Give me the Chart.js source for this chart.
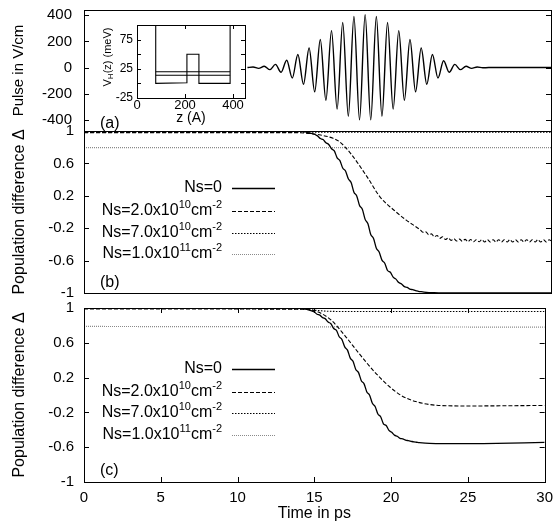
<!DOCTYPE html>
<html>
<head>
<meta charset="utf-8">
<script src="https://cdn.jsdelivr.net/npm/chart.js@4.4.0/dist/chart.umd.min.js"></script>
<style>
html, body { margin: 0; padding: 0; background: #fff; overflow: hidden; }
#wrap { position: relative; width: 560px; height: 531px; overflow: hidden; }
#wrap canvas { position: absolute; left: 0; top: 0; }
#wrap #chartA { top: -20px; }
</style>
</head>
<body>
<div id="wrap">
  <canvas id="chartA" width="560" height="551"></canvas>
  <canvas id="chartB" width="560" height="531"></canvas>
  <canvas id="chartC" width="560" height="531"></canvas>
  <canvas id="chartInset" width="560" height="531"></canvas>
</div>
<script>
var F = '"Liberation Sans", Arial, Helvetica, sans-serif';

// ticks
var timeTicks = [0, 5, 10, 15, 20, 25, 30];
var pulseTicks = [400, 200, 0, -200, -400];
var popTicks = [1, 0.6, 0.2, -0.2, -0.6, -1];
var insetZTicks = [0, 200, 400];
var insetVTicks = [-25, 0, 25, 50, 75];
var insetVLabels = [75, 25, -25];

// legend names, odd parts are superscripts
var seriesNames = [
  ["Ns=0"],
  ["Ns=2.0x10", "10", "cm", "-2"],
  ["Ns=7.0x10", "10", "cm", "-2"],
  ["Ns=1.0x10", "11", "cm", "-2"]
];

// (a) pulse, V/cm
var pulseTime = [10.5, 10.86, 11.22, 11.58, 11.94, 12.30, 12.66, 13.02, 13.38, 13.74, 14.10, 14.46, 14.82, 15.18, 15.54,
  15.90, 16.26, 16.62, 16.98, 17.34, 17.70, 18.06, 18.42, 18.78, 19.14, 19.50, 19.86, 20.22, 20.58, 20.94, 21.30,
  21.66, 22.02, 22.38, 22.74, 23.10, 23.46, 23.82, 24.18, 24.54, 24.90, 25.26, 25.62, 26.0, 30];
var pulseField = [0, 4, -6, 10, -16, 24, -36, 56, -80, 100, -128, 150, -185, 215, -250,
  282, -318, 344, -372, 390, -400, 405, -400, 390, -372, 344, -318, 282, -250, 215, -185,
  150, -128, 100, -80, 52, -36, 24, -16, 10, -6, 4, -2, 0, 0];

// (b) population difference
var bTime0 = [0, 13, 14, 14.5,
  15.00, 15.18, 15.36, 15.54, 15.72, 15.90, 16.08, 16.26, 16.44, 16.62, 16.80, 16.98, 17.16, 17.34, 17.52, 17.70,
  17.88, 18.06, 18.24, 18.42, 18.60, 18.78, 18.96, 19.14, 19.32, 19.50, 19.68, 19.86, 20.04, 20.22, 20.40, 20.58,
  20.76, 20.94, 21.12, 21.30, 21.48, 21.66, 21.84, 22.5, 23, 30];
var bNs0 = [1, 1, 0.995, 0.975,
  0.940, 0.907, 0.894, 0.855, 0.834, 0.781, 0.755, 0.669, 0.634, 0.543, 0.506, 0.411, 0.364, 0.245, 0.199, 0.080,
  0.034, -0.091, -0.145, -0.278, -0.327, -0.447, -0.495, -0.594, -0.632, -0.722, -0.744, -0.805, -0.829, -0.871, -0.889, -0.921,
  -0.930, -0.953, -0.959, -0.972, -0.979, -0.984, -0.988, -0.997, -1, -1];
var bTime2 = [0, 13.5, 14.5, 15.2, 16.0, 16.4, 17.1, 18.2, 19.0, 19.9, 20.7, 21.6,
  21.78, 21.96, 22.14, 22.32, 22.50, 22.68, 22.86, 23.04, 23.22, 23.40, 23.58, 23.76, 23.94, 24.12, 24.30, 24.48,
  24.66, 24.84, 25.02, 25.20, 25.38, 25.56, 25.74, 25.92, 26.10, 26.28, 26.46, 26.64, 26.82, 27.00, 27.18, 27.36,
  27.54, 27.72, 27.90, 28.08, 28.26, 28.44, 28.62, 28.80, 28.98, 29.16, 29.34, 29.52, 29.70, 29.88, 30.00];
var bNs2 = [0.98, 0.98, 0.97, 0.95, 0.91, 0.87, 0.73, 0.43, 0.19, 0.025, -0.10, -0.22,
  -0.25, -0.245, -0.28, -0.27, -0.305, -0.29, -0.325, -0.305, -0.34, -0.32, -0.35, -0.33, -0.358, -0.335, -0.362, -0.338,
  -0.365, -0.34, -0.368, -0.342, -0.368, -0.342, -0.37, -0.342, -0.37, -0.342, -0.37, -0.342, -0.37, -0.342, -0.37, -0.342,
  -0.37, -0.342, -0.37, -0.342, -0.37, -0.342, -0.37, -0.342, -0.37, -0.342, -0.37, -0.342, -0.37, -0.342, -0.355];
var bTime7 = [0, 30];
var bNs7 = [0.985, 0.985];
var bTime11 = [0, 30];
var bNs11 = [0.794, 0.794];

// (c) population difference
var cTime0 = [0, 13.5, 14.5,
  15.00, 15.18, 15.36, 15.54, 15.72, 15.90, 16.08, 16.26, 16.44, 16.62, 16.80, 16.98, 17.16, 17.34, 17.52, 17.70,
  17.88, 18.06, 18.24, 18.42, 18.60, 18.78, 18.96, 19.14, 19.32, 19.50, 19.68, 19.86, 20.04, 20.22, 20.40, 20.58,
  20.76, 20.94, 21.12, 21.30, 21.48, 21.66, 21.84, 22.5, 23.5, 26, 30];
var cNs0 = [1, 1, 0.985,
  0.954, 0.928, 0.918, 0.889, 0.875, 0.838, 0.819, 0.764, 0.743, 0.670, 0.637, 0.553, 0.516, 0.424, 0.387, 0.294,
  0.257, 0.164, 0.128, 0.035, -0.002, -0.095, -0.132, -0.218, -0.250, -0.331, -0.351, -0.407, -0.429, -0.461, -0.474, -0.498,
  -0.504, -0.518, -0.525, -0.532, -0.539, -0.543, -0.547, -0.557, -0.56, -0.558, -0.545];
var cTime2 = [0, 14.5, 15.3, 16.1, 17.0, 17.9, 18.9, 19.9, 20.7, 21.6, 23.1, 25, 30];
var cNs2 = [0.99, 0.985, 0.95, 0.86, 0.68, 0.48, 0.27, 0.095, -0.01, -0.075, -0.12, -0.126, -0.12];
var cTime7 = [0, 14, 15, 16, 17, 30];
var cNs7 = [0.995, 0.99, 0.975, 0.962, 0.96, 0.96];
var cTime11 = [0, 30];
var cNs11 = [0.788, 0.78];

// inset: potential profile V_H(z), meV
var insetZ = [78, 78, 208, 208, 258, 258, 388, 388];
var insetV = [100, 0, 1, 50, 50, 0, 0, 100];
var levelZ = [78, 388];
var level1 = [20, 20];
var level2 = [14, 14];

function pts(xs, ys) {
  return xs.map(function (x, i) { return { x: x, y: ys[i] }; });
}

var styles = [
  { borderColor: '#000', borderWidth: 1.3, borderDash: [] },
  { borderColor: '#000', borderWidth: 1.1, borderDash: [4, 2] },
  { borderColor: '#000', borderWidth: 1.1, borderDash: [1.5, 1.5] },
  { borderColor: '#8a8a8a', borderWidth: 1.2, borderDash: [1, 1] }
];

function line(data, st) {
  return {
    data: data, borderColor: st.borderColor, borderWidth: st.borderWidth, borderDash: st.borderDash,
    pointRadius: 0, fill: false, cubicInterpolationMode: 'monotone'
  };
}

var framePlugin = {
  id: 'frame',
  afterDraw: function (chart, args, o) {
    var ctx = chart.ctx, a = chart.chartArea;
    ctx.save();
    ctx.strokeStyle = '#000';
    ctx.lineWidth = 1;
    ctx.setLineDash([]);
    ctx.beginPath();
    var ys = chart.scales.y;
    ys.ticks.forEach(function (t) {
      var py = Math.round(ys.getPixelForValue(t.value)) + 0.5;
      ctx.moveTo(a.left, py); ctx.lineTo(a.left + o.tick, py);
      ctx.moveTo(a.right, py); ctx.lineTo(a.right - o.tick, py);
    });
    if (o.xTicks) {
      var xs = chart.scales.x;
      xs.ticks.forEach(function (t) {
        var px = Math.round(xs.getPixelForValue(t.value)) + 0.5;
        ctx.moveTo(px, a.bottom); ctx.lineTo(px, a.bottom - o.tick);
        ctx.moveTo(px, a.top); ctx.lineTo(px, a.top + o.tick);
      });
    }
    ctx.stroke();
    ctx.strokeRect(Math.round(a.left) + 0.5, Math.round(a.top) + 0.5, Math.round(a.right - a.left), Math.round(a.bottom - a.top));

    ctx.fillStyle = '#000';
    if (o.label) {
      ctx.font = '16px ' + F;
      ctx.textAlign = 'left';
      ctx.textBaseline = 'middle';
      ctx.fillText(o.label, o.labelX, o.labelY);
    }
    if (o.legendRows) {
      o.legendRows.forEach(function (y, i) {
        var parts = seriesNames[i], w = 0;
        parts.forEach(function (p, k) {
          ctx.font = (k % 2 ? '11px ' : '16px ') + F;
          w += ctx.measureText(p).width;
        });
        var x = o.legendRight - w;
        ctx.textAlign = 'left';
        ctx.textBaseline = 'middle';
        parts.forEach(function (p, k) {
          ctx.font = (k % 2 ? '11px ' : '16px ') + F;
          ctx.fillText(p, x, k % 2 ? y - 6 : y);
          x += ctx.measureText(p).width;
        });
        var ds = chart.data.datasets[i];
        ctx.beginPath();
        ctx.strokeStyle = ds.borderColor;
        ctx.lineWidth = ds.borderWidth;
        ctx.setLineDash(ds.borderDash);
        ctx.moveTo(o.sampleX[0], y + 0.5);
        ctx.lineTo(o.sampleX[1], y + 0.5);
        ctx.stroke();
      });
    }
    if (o.yTitle) {
      ctx.translate(o.yTitle.x, o.yTitle.y);
      ctx.rotate(-Math.PI / 2);
      ctx.setLineDash([]);
      ctx.fillStyle = '#000';
      ctx.textBaseline = 'middle';
      ctx.textAlign = 'left';
      var tw = 0;
      o.yTitle.parts.forEach(function (p, k) {
        ctx.font = (k % 2 ? '8px ' : '11px ') + F;
        tw += ctx.measureText(p).width;
      });
      var tx = -tw / 2;
      o.yTitle.parts.forEach(function (p, k) {
        ctx.font = (k % 2 ? '8px ' : '11px ') + F;
        ctx.fillText(p, tx, k % 2 ? 3 : 0);
        tx += ctx.measureText(p).width;
      });
    }
    ctx.restore();
  },
  beforeDatasetsDraw: function (chart, args, o) {
    if (!o.white) return;
    var a = chart.chartArea;
    chart.ctx.save();
    chart.ctx.fillStyle = '#fff';
    chart.ctx.fillRect(a.left, a.top, a.right - a.left, a.bottom - a.top);
    chart.ctx.restore();
  }
};

function yAxis(min, max, tickVals, title, pad, titleSize) {
  return {
    type: 'linear', min: min, max: max,
    afterBuildTicks: function (s) { s.ticks = tickVals.map(function (v) { return { value: v }; }); },
    afterFit: function (s) { s.width = 84; },
    grid: { display: false, drawTicks: false },
    border: { display: false },
    ticks: { autoSkip: false, padding: pad, color: '#000', font: { size: 15, family: F },
      callback: function (v) { return String(v); } },
    title: { display: true, text: title, color: '#000', font: { size: titleSize, family: F }, padding: { top: 10, bottom: 0 } }
  };
}

function baseOptions(padding, scales, frameOpts) {
  return {
    responsive: false, animation: false, devicePixelRatio: 1,
    layout: { padding: padding },
    plugins: { legend: { display: false }, tooltip: { enabled: false }, frame: frameOpts },
    scales: scales,
    events: []
  };
}

var hiddenX = { type: 'linear', min: 0, max: 30, display: false };

// (a) canvas is shifted up by 20px so the plot box can start at y=10
var pulseStyle = { borderColor: '#000', borderWidth: 1.4, borderDash: [] };
new Chart(document.getElementById('chartA'), {
  type: 'line',
  data: { datasets: [line(pts(pulseTime, pulseField), pulseStyle)] },
  options: baseOptions({ top: 30, bottom: 400, left: 0, right: 9 },
    { x: hiddenX, y: yAxis(-485, 440, pulseTicks, 'Pulse in V/cm', 12, 15) },
    { tick: 5, label: '(a)', labelX: 100, labelY: 144 }),
  plugins: [framePlugin]
});

// (b)
new Chart(document.getElementById('chartB'), {
  type: 'line',
  data: { datasets: [
    line(pts(bTime0, bNs0), styles[0]),
    line(pts(bTime2, bNs2), styles[1]),
    line(pts(bTime7, bNs7), styles[2]),
    line(pts(bTime11, bNs11), styles[3])
  ] },
  options: baseOptions({ top: 131, bottom: 238, left: 0, right: 9 },
    { x: hiddenX, y: yAxis(-1, 1, popTicks, 'Population difference \u0394', 10, 16) },
    { tick: 5, label: '(b)', labelX: 100, labelY: 283, legendRows: [188, 211, 233, 254], legendRight: 222, sampleX: [232, 275] }),
  plugins: [framePlugin]
});

// (c)
new Chart(document.getElementById('chartC'), {
  type: 'line',
  data: { datasets: [
    line(pts(cTime0, cNs0), styles[0]),
    line(pts(cTime2, cNs2), styles[1]),
    line(pts(cTime7, cNs7), styles[2]),
    line(pts(cTime11, cNs11), styles[3])
  ] },
  options: baseOptions({ top: 308, bottom: 0, left: 0, right: 9 }, {
    x: {
      type: 'linear', min: 0, max: 30,
      afterBuildTicks: function (s) { s.ticks = timeTicks.map(function (v) { return { value: v }; }); },
      afterFit: function (s) { s.height = 49; },
      grid: { display: false, drawTicks: false },
      border: { display: false },
      ticks: { autoSkip: false, maxRotation: 0, padding: 7, color: '#000', font: { size: 15, family: F } },
      title: { display: true, text: 'Time in ps', color: '#000', font: { size: 16, family: F }, padding: { top: 0, bottom: 8 } }
    },
    y: yAxis(-1, 1, popTicks, 'Population difference \u0394', 10, 16)
  }, { tick: 5, xTicks: true, label: '(c)', labelX: 100, labelY: 471, legendRows: [369, 392, 413, 435], legendRight: 222, sampleX: [232, 275] }),
  plugins: [framePlugin]
});

// inset
new Chart(document.getElementById('chartInset'), {
  type: 'line',
  data: { datasets: [
    { data: pts(insetZ, insetV), borderColor: '#000', borderWidth: 1.1, pointRadius: 0, tension: 0, fill: false },
    { data: pts(levelZ, level1), borderColor: '#000', borderWidth: 1.1, pointRadius: 0, tension: 0, fill: false },
    { data: pts(levelZ, level2), borderColor: '#000', borderWidth: 1.1, pointRadius: 0, tension: 0, fill: false }
  ] },
  options: baseOptions({ top: 25, bottom: 403, left: 107, right: 315 }, {
    x: {
      type: 'linear', min: 0, max: 450,
      afterBuildTicks: function (s) { s.ticks = insetZTicks.map(function (v) { return { value: v }; }); },
      afterFit: function (s) { s.height = 30; },
      grid: { display: false, drawTicks: false },
      border: { display: false },
      ticks: { autoSkip: false, maxRotation: 0, padding: 0, color: '#000', font: { size: 13, family: F } },
      title: { display: true, text: 'z (A)', color: '#000', font: { size: 14, family: F }, padding: { top: 0, bottom: 1 } }
    },
    y: {
      type: 'linear', min: -25, max: 100,
      afterBuildTicks: function (s) { s.ticks = insetVTicks.map(function (v) { return { value: v }; }); },
      afterFit: function (s) { s.width = 30; },
      grid: { display: false, drawTicks: false },
      border: { display: false },
      ticks: { autoSkip: false, padding: 4, color: '#000', font: { size: 12, family: F },
        callback: function (v) { return insetVLabels.indexOf(v) >= 0 ? String(v) : ''; } }
    }
  }, { tick: 4, xTicks: true, white: true,
       yTitle: { x: 108, y: 57, parts: ['V', 'H', '(z) (meV)'] } }),
  plugins: [framePlugin]
});
</script>
</body>
</html>
